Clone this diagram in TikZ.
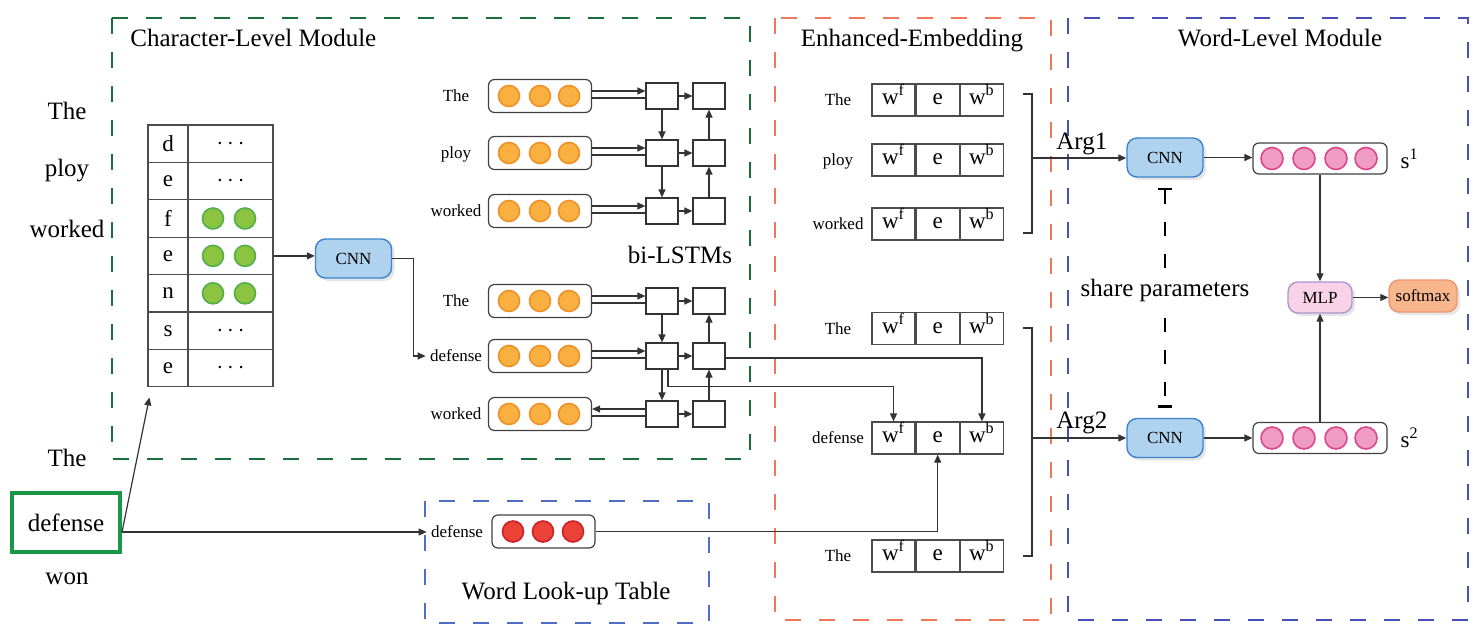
\documentclass[tikz,border=0pt]{standalone}
\usepackage{fontspec}
\setmainfont{Liberation Serif}
\usetikzlibrary{positioning,arrows.meta,shadows}
\definecolor{gDash}{RGB}{25,110,60}
\definecolor{oDash}{RGB}{240,120,90}
\definecolor{bDash}{RGB}{70,80,185}
\definecolor{lDash}{RGB}{80,110,195}
\definecolor{dGreen}{RGB}{25,150,70}
\definecolor{cFill}{RGB}{175,210,238}
\definecolor{cLine}{RGB}{60,130,205}
\definecolor{oFill}{RGB}{250,175,65}
\definecolor{oLine}{RGB}{240,145,40}
\definecolor{gFill}{RGB}{140,195,65}
\definecolor{gLine}{RGB}{80,175,75}
\definecolor{rFill}{RGB}{235,65,55}
\definecolor{rLine}{RGB}{200,35,45}
\definecolor{pFill}{RGB}{240,155,195}
\definecolor{pLine}{RGB}{220,70,140}
\definecolor{mFill}{RGB}{248,210,230}
\definecolor{mLine}{RGB}{170,150,210}
\definecolor{sFill}{RGB}{248,182,140}
\definecolor{sLine}{RGB}{235,150,110}
\newcommand{\fbig}{\fontsize{12.5}{15}\selectfont}
\newcommand{\fsmall}{\fontsize{8.5}{10}\selectfont}
\newcommand{\fcell}{\fontsize{11.5}{13}\selectfont}
\newcommand{\tdots}{$\cdot\mkern-1mu\cdot\mkern-1mu\cdot$}
\tikzset{
    module/.style={draw=#1, dash pattern=on 8pt off 9pt, line width=0.7pt},
    edge/.style={draw=black!80, line width=0.6pt, -{Triangle[length=4pt, width=3.5pt]}},
    plain/.style={draw=black!80, line width=0.6pt},
    title/.style={font=\fbig, anchor=base, inner sep=0pt},
    lbl/.style={font=\fsmall, inner sep=2pt, text height=1.5ex, text depth=0.25ex},
    vec/.style={draw=black!75, fill=white, rounded corners=3pt, line width=0.6pt, minimum width=51.5pt, minimum height=16.5pt},
    dot/.style={circle, inner sep=0pt, minimum size=10.5pt, line width=0.8pt},
    odot/.style={dot, fill=oFill, draw=oLine},
    gdot/.style={dot, fill=gFill, draw=gLine},
    rdot/.style={dot, fill=rFill, draw=rLine},
    pdot/.style={dot, fill=pFill, draw=pLine, minimum size=11pt},
    sq/.style={draw=black!80, line width=0.6pt, minimum width=16pt, minimum height=13pt, inner sep=0pt},
    cell/.style={draw=black!70, line width=0.6pt, minimum width=21.5pt, minimum height=16pt, inner sep=0pt, font=\fcell, text height=1ex, text depth=0pt},
    tcell/.style={draw=black!70, line width=0.6pt, minimum height=18.7pt, inner sep=0pt, font=\fcell},
    proc/.style={rounded corners=5pt, line width=0.7pt, minimum height=15.5pt, inner sep=2pt, font=\fsmall, drop shadow={opacity=0.2, shadow xshift=1.5pt, shadow yshift=-1.5pt}},
    cnn/.style={proc, draw=cLine, fill=cFill, minimum width=38pt, minimum height=19.5pt},
    mlp/.style={proc, draw=mLine, fill=mFill, minimum width=32pt},
    soft/.style={proc, draw=sLine, fill=sFill, minimum width=34pt, minimum height=16pt},
    share/.style={line width=1.2pt, dash pattern=on 7pt off 9pt, {Bar[width=7pt]}-{Bar[width=7pt]}, shorten <=5pt, shorten >=5pt}
}
\begin{document}
\begin{tikzpicture}[x=0.5pt, y=-0.5pt]
    \useasboundingbox (0,0) rectangle (1482,643);

    % Modules
    \draw[module=gDash] (112,18) rectangle (750,459);
    \draw[module=oDash] (775,18) rectangle (1051,620);
    \draw[module=bDash] (1068,18) rectangle (1468,620);
    \draw[module=lDash] (425,501) rectangle (709,623);
    \node[title, anchor=base west] (tchar) at (130,46) {Character-Level Module};
    \node[title] (temb) at (912,46) {Enhanced-Embedding};
    \node[title] (tword) at (1280,46) {Word-Level Module};
    \node[title] (tlstm) at (680,263) {bi-LSTMs};
    \node[title] (tlook) at (566,599) {Word Look-up Table};

    % Sentence
    \node[title] (w1) at (67,119) {The};
    \node[title] (w2) at (67,176) {ploy};
    \node[title] (w3) at (67,237) {worked};
    \node[title] (w4) at (67,466) {The};
    \node[font=\fbig, draw=dGreen, line width=2pt, minimum width=54pt, minimum height=29.5pt] (w5) at (66,522.5) {defense};
    \node[title] (w6) at (67,584) {won};

    % Character table
    \foreach \i/\c/\v in {1/d/\tdots, 2/e/\tdots, 3/f/, 4/e/, 5/n/, 6/s/\tdots, 7/e/\tdots}{
        \node[tcell, minimum width=20pt] (ch\i) at (168,106.3+37.4*\i) {\c};
        \node[tcell, minimum width=42.5pt] (cv\i) at (230.5,106.3+37.4*\i) {\v};
    }
    \foreach \i in {3,4,5}{
        \node[gdot] (ga\i) at (213,106.3+37.4*\i) {};
        \node[gdot] (gb\i) at (245,106.3+37.4*\i) {};
    }
    \node[cnn] (ccnn) at (353.5,258.5) {CNN};
    \draw[edge] (cv4.east) -- (cv4.east -| ccnn.west);

    % bi-LSTMs
    \foreach \n/\w/\y in {ta/The/96, tb/ploy/153, tc/worked/211, ba/The/301, bb/defense/356, bc/worked/414}{
        \node[lbl] (\n-w) at (456,\y) {\w};
        \node[vec] (\n) at (540,\y) {};
        \node[odot] (\n-x) at (509,\y) {};
        \node[odot] (\n-y) at (540,\y) {};
        \node[odot] (\n-z) at (569,\y) {};
        \node[sq] (\n-1) at (662,\y) {};
        \node[sq] (\n-2) at (709,\y) {};
        \draw[edge] (\n-1) -- (\n-2);
    }
    \foreach \n in {ta,tb,tc,ba,bb}{
        \draw[edge] ([yshift=2.5pt]\n.east) -- ([yshift=2.5pt]\n.east -| \n-1.west);
        \draw[plain] ([yshift=-1pt]\n.east) -- ([yshift=-1pt]\n.east -| \n-1.west);
    }
    \draw[edge] ([yshift=2.5pt]bc.east -| bc-1.west) -- ([yshift=2.5pt]bc.east);
    \draw[plain] ([yshift=-1pt]bc.east) -- ([yshift=-1pt]bc.east -| bc-1.west);
    \draw[edge] (ta-1) -- (tb-1);
    \draw[edge] (tb-1) -- (tc-1);
    \draw[edge] (tc-2) -- (tb-2);
    \draw[edge] (tb-2) -- (ta-2);
    \draw[edge] (ba-1) -- (bb-1);
    \draw[edge] (bb-1) -- (bc-1);
    \draw[edge] (bc-2) -- (bb-2);
    \draw[edge] (bb-2) -- (ba-2);
    \draw[edge] (ccnn.east) -- ++(10.5pt,0pt) |- (bb-w.west);

    % Enhanced embeddings
    \foreach \n/\w/\y in {ea/The/100, eb/ploy/160, ec/worked/224, ed/The/328.5, ee/defense/438, ef/The/556}{
        \node[lbl] (\n-w) at (838,\y) {\w};
        \node[cell] (\n-f) at (893.5,\y) {w\textsuperscript{f}};
        \node[cell, right=0pt of \n-f] (\n-e) {e};
        \node[cell, right=0pt of \n-e] (\n-b) {w\textsuperscript{b}};
    }
    \draw[edge] ([yshift=-1pt]bb-2.east) -| (ee-b.north);
    \draw[edge] ([xshift=3pt]bb-1.south) -- ++(0pt,-8.5pt) -| (ee-f.north);

    % Word look-up table
    \node[lbl] (lw) at (457,532) {defense};
    \node[vec] (lv) at (543.5,531.5) {};
    \node[rdot] (lv-x) at (513,531.5) {};
    \node[rdot] (lv-y) at (543,531.5) {};
    \node[rdot] (lv-z) at (573,531.5) {};
    \draw[edge] (w5.east |- lw) -- (lw.west);
    \draw[edge] (w5.east |- lw) -- ([xshift=1pt, yshift=-5pt]ch7.south west);
    \draw[edge] (lv.east) -| (ee-e.south);

    % Word-level module
    \coordinate (k1) at (1032,158);
    \coordinate (k2) at (1032,438);
    \draw[plain] (1023,94) -| (k1) |- (1023,233);
    \draw[plain] (1023,328) -| (k2) |- (1023,556);
    \node[cnn] (cnn1) at (1165,157.5) {CNN};
    \node[cnn] (cnn2) at (1165,438) {CNN};
    \draw[edge] (k1) -- (k1 -| cnn1.west);
    \draw[edge] (k2) -- (k2 -| cnn2.west);
    \node[title, anchor=base west] (arg1) at (1056,149) {Arg1};
    \node[title, anchor=base west] (arg2) at (1056,428) {Arg2};

    \foreach \n/\y in {1/158.5, 2/438}{
        \node[vec, minimum width=67pt, minimum height=15.5pt] (s\n) at (1320,\y) {};
        \node[pdot] (s\n-a) at (1272,\y) {};
        \node[pdot] (s\n-b) at (1304,\y) {};
        \node[pdot] (s\n-c) at (1336,\y) {};
        \node[pdot] (s\n-d) at (1366,\y) {};
        \node[font=\fcell, right=3pt of s\n] (s\n-l) {s\textsuperscript{\n}};
        \draw[edge] (cnn\n.east) -- (cnn\n.east -| s\n.west);
    }
    \node[mlp] (mlp) at (1320,297.5) {MLP};
    \node[soft] (sm) at (1423,296) {softmax};
    \draw[edge] (s1) -- (mlp);
    \draw[edge] (s2) -- (mlp);
    \draw[edge] (mlp.east) -- (mlp.east -| sm.west);

    % shared parameters
    \draw[share] (cnn1.south) -- (cnn2.north);
    \node[title, fill=white, inner sep=2pt] (shp) at (1165,296) {share parameters};
\end{tikzpicture}
\end{document}
